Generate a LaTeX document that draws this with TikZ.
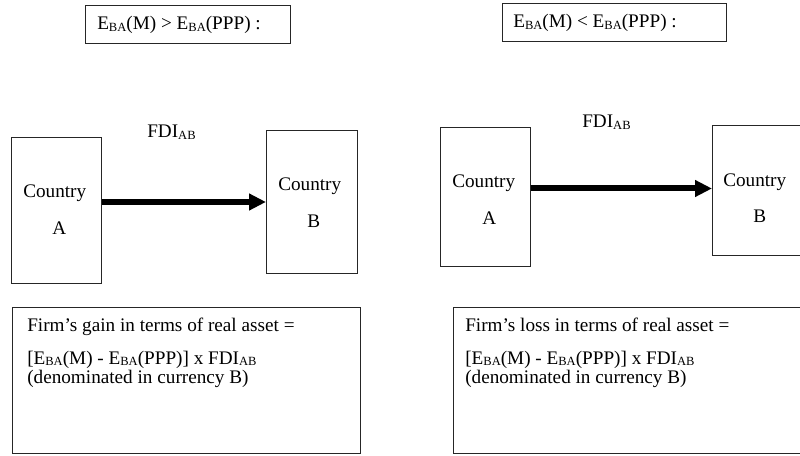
\documentclass[tikz,border=0pt]{standalone}
\usepackage{fontspec}
\setmainfont{Liberation Serif}
\usetikzlibrary{arrows.meta}
\newcommand{\lsub}[1]{\raisebox{-0.8pt}{\fontsize{9.4}{10}\selectfont #1}}
\begin{document}
\begin{tikzpicture}[x=0.75pt,y=-0.75pt,
  frame/.style={draw=black!85, line width=0.75pt, inner sep=0pt, anchor=north west},
  lbl/.style={anchor=base west, inner sep=0pt, font=\fontsize{14.4}{17}\selectfont},
  flow/.style={line width=4.5pt, -{Triangle[length=12.75pt,width=12pt]}}]
\useasboundingbox (0,0) rectangle (800,456);
\clip (0,0) rectangle (800,456);
% ---------- left panel ----------
\node[frame, minimum width=153.75pt, minimum height=28.5pt] (tL) at (85,5) {};
\node[lbl] (tLt) at (97,30) {E\lsub{BA}(M) > E\lsub{BA}(PPP) :};
\node[frame, minimum width=67.5pt, minimum height=109.5pt] (aL) at (11,137) {};
\node[frame, minimum width=68.25pt, minimum height=107.25pt] (bL) at (266,130) {};
\node[lbl] (aL1) at (23,198) {Country};
\node[lbl] (aL2) at (52,234) {A};
\node[lbl] (bL1) at (278,191) {Country};
\node[lbl] (bL2) at (307,228) {B};
\node[lbl] (fL) at (147,138) {FDI\lsub{AB}};
\draw[flow] (bL.west -| aL.east) -- (bL.west);
\node[frame, minimum width=261pt, minimum height=109.5pt] (gL) at (12,307) {};
\node[lbl] (gL1) at (27,331) {Firm’s gain in terms of real asset =};
\node[lbl] (gL2) at (27,364) {[E\lsub{BA}(M) - E\lsub{BA}(PPP)] x FDI\lsub{AB}};
\node[lbl] (gL3) at (27,383) {(denominated in currency B)};
% ---------- right panel ----------
\node[frame, minimum width=168pt, minimum height=28.5pt] (tR) at (502,3) {};
\node[lbl] (tRt) at (513,28) {E\lsub{BA}(M) < E\lsub{BA}(PPP) :};
\node[frame, minimum width=67.5pt, minimum height=104.25pt] (aR) at (440,127) {};
\node[frame, minimum width=81pt, minimum height=97.5pt] (bR) at (712,125) {};
\node[lbl] (aR1) at (452,188) {Country};
\node[lbl] (aR2) at (482,224) {A};
\node[lbl] (bR1) at (723,187) {Country};
\node[lbl] (bR2) at (753,223) {B};
\node[lbl] (fR) at (582,128) {FDI\lsub{AB}};
\draw[flow] ([yshift=1.5pt]bR.west -| aR.east) -- ([yshift=1.5pt]bR.west);
\node[frame, minimum width=270pt, minimum height=109.5pt] (gR) at (453,307) {};
\node[lbl] (gR1) at (465,331) {Firm’s loss in terms of real asset =};
\node[lbl] (gR2) at (465,364) {[E\lsub{BA}(M) - E\lsub{BA}(PPP)] x FDI\lsub{AB}};
\node[lbl] (gR3) at (465,383) {(denominated in currency B)};
\end{tikzpicture}
\end{document}
